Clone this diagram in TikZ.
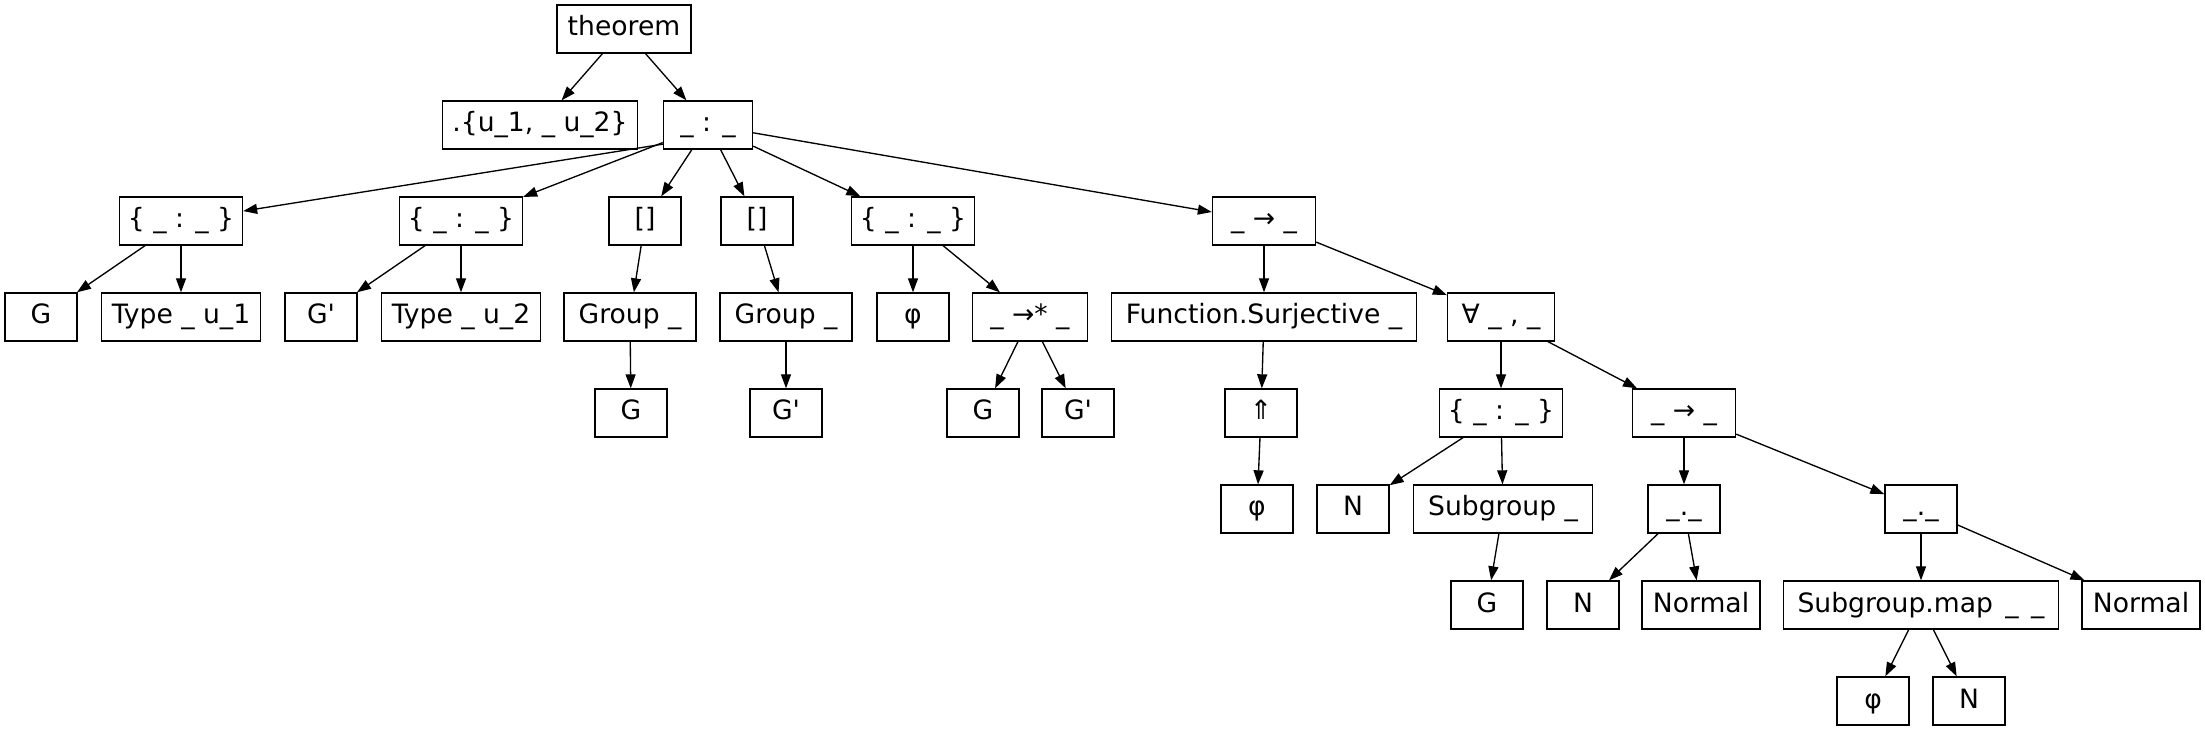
\documentclass[tikz,border=0pt]{standalone}
\usepackage{fontspec}
\setmainfont{DejaVu Sans}[Ligatures=TeXOff]
\usetikzlibrary{arrows.meta}
\tikzset{
  box/.style={draw=black, line width=0.67pt, minimum height=24pt, minimum width=#1, inner sep=0pt,
    text height=10pt, text depth=3pt, font=\fontsize{13.3}{16}\selectfont},
  box/.default=36pt,
  edge/.style={line width=0.67pt, -{Triangle[length=7pt,width=5pt]}}
}
\begin{document}
\begin{tikzpicture}[x=0.5pt,y=-0.5pt]
\useasboundingbox (0,0) rectangle (2205,731);
% row 0
\node[box=67pt] (theorem) at (624,29) {theorem};
% row 1
\node[box=97.5pt] (univ) at (540,125) {.\{u\_1, \_ u\_2\}};
\node[box=44.5pt] (colon) at (708,125) {\_ : \_};
% row 2
\node[box=61.5pt] (s1) at (181,221) {\{ \_ : \_ \}};
\node[box=61.5pt] (s2) at (461,221) {\{ \_ : \_ \}};
\node[box] (b1) at (645,221) {[]};
\node[box] (b2) at (757,221) {[]};
\node[box=61.5pt] (s3) at (913,221) {\{ \_ : \_ \}};
\node[box=51.5pt] (imp) at (1264,221) {\_ → \_};
% row 3
\node[box] (G1) at (41,317) {G};
\node[box=79.5pt] (T1) at (181,317) {Type \_ u\_1};
\node[box] (G2) at (321,317) {G'};
\node[box=79.5pt] (T2) at (461,317) {Type \_ u\_2};
\node[box=66pt] (grp1) at (630,317) {Group \_};
\node[box=66pt] (grp2) at (786,317) {Group \_};
\node[box] (phi1) at (913,317) {φ};
\node[box=57.5pt] (hom) at (1030,317) {\_ →* \_};
\node[box=152.5pt] (fs) at (1264,317) {Function.Surjective \_};
\node[box=53.5pt] (all) at (1501,317) {∀ \_ , \_};
% row 4
\node[box] (g3) at (631,413) {G};
\node[box] (g4) at (786,413) {G'};
\node[box] (g5) at (983,413) {G};
\node[box] (g6) at (1078,413) {G'};
\node[box] (up) at (1261,413) {⇑};
\node[box=61.5pt] (s4) at (1501,413) {\{ \_ : \_ \}};
\node[box=51.5pt] (imp2) at (1684,413) {\_ → \_};
% row 5
\node[box] (phi2) at (1257,509) {φ};
\node[box] (n1) at (1353,509) {N};
\node[box=89.5pt] (sub) at (1503,509) {Subgroup \_};
\node[box] (dot1) at (1684,509) {\_.\_};
\node[box] (dot2) at (1921,509) {\_.\_};
% row 6
\node[box] (g7) at (1487,605) {G};
\node[box] (n2) at (1583,605) {N};
\node[box=59pt] (norm1) at (1701,605) {Normal};
\node[box=137.5pt] (map) at (1921,605) {Subgroup.map\hspace{2pt} \_\hspace{2pt} \_};
\node[box=59pt] (norm2) at (2141,605) {Normal};
% row 7
\node[box] (phi3) at (1873,701) {φ};
\node[box] (n3) at (1969,701) {N};
% edges
\draw[edge] (theorem) -- (univ);
\draw[edge] (theorem) -- (colon);
\draw[edge] (colon.203) -- (s1);
\draw[edge] (colon) -- (s2);
\draw[edge] (colon) -- (b1);
\draw[edge] (colon) -- (b2);
\draw[edge] (colon) -- (s3);
\draw[edge] (colon) -- (imp);
\draw[edge] (s1) -- (G1);
\draw[edge] (s1) -- (T1);
\draw[edge] (s2) -- (G2);
\draw[edge] (s2) -- (T2);
\draw[edge] (b1) -- (grp1);
\draw[edge] (b2) -- (grp2);
\draw[edge] (s3) -- (phi1);
\draw[edge] (s3) -- (hom);
\draw[edge] (imp) -- (fs);
\draw[edge] (imp) -- (all);
\draw[edge] (grp1) -- (g3);
\draw[edge] (grp2) -- (g4);
\draw[edge] (hom) -- (g5);
\draw[edge] (hom) -- (g6);
\draw[edge] (fs) -- (up);
\draw[edge] (all) -- (s4);
\draw[edge] (all) -- (imp2);
\draw[edge] (up) -- (phi2);
\draw[edge] (s4) -- (n1);
\draw[edge] (s4) -- (sub);
\draw[edge] (imp2) -- (dot1);
\draw[edge] (imp2) -- (dot2);
\draw[edge] (sub) -- (g7);
\draw[edge] (dot1) -- (n2);
\draw[edge] (dot1) -- (norm1);
\draw[edge] (dot2) -- (map);
\draw[edge] (dot2) -- (norm2);
\draw[edge] (map) -- (phi3);
\draw[edge] (map) -- (n3);
\end{tikzpicture}
\end{document}
